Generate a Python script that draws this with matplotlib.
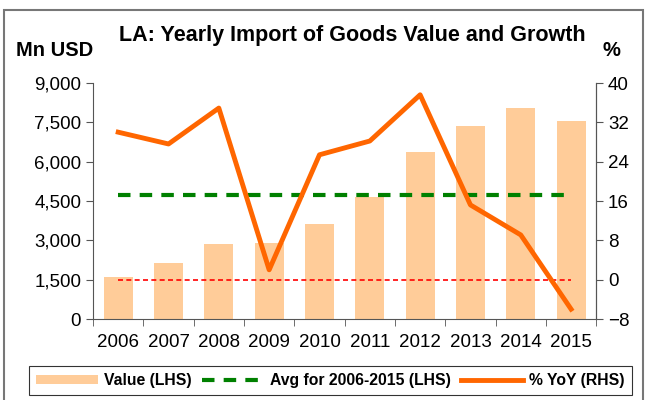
import matplotlib.pyplot as plt
from matplotlib.patches import Rectangle

plt.rcParams['font.family'] = ['Liberation Sans', 'DejaVu Sans']

# data
years = ['2006', '2007', '2008', '2009', '2010', '2011', '2012', '2013', '2014', '2015']
value = [1600, 2140, 2860, 2900, 3620, 4650, 6370, 7360, 8050, 7550]
yoy = [30.0, 27.6, 34.9, 2.0, 25.4, 28.2, 37.6, 15.2, 9.1, -6.0]
avg = sum(value) / len(value)

bar_col = '#FFCC99'
green = '#008000'
orange = '#FF6600'

fig = plt.figure(figsize=(6.46, 4.0), dpi=100)
ax = fig.add_axes([0.144, 0.2025, 0.779, 0.59])
x = list(range(len(years)))

bars = ax.bar(x, value, width=0.58, color=bar_col, label='Value (LHS)', zorder=1)
avg_line, = ax.plot([x[0], x[-1]], [avg, avg], color=green, lw=3, ls=(0, (3, 2.2)),
                    label='Avg for 2006-2015 (LHS)', zorder=3)
ax.set_ylim(0, 9000)
ax.set_yticks(range(0, 9001, 1500))
ax.set_yticklabels([f'{v:,}' for v in range(0, 9001, 1500)])
ax.set_xlim(-0.5, len(years) - 0.5)
ax.set_xticks(x)
ax.set_xticklabels(years)
ax.set_xticks([i - 0.5 for i in range(len(years) + 1)], minor=True)
ax.tick_params(axis='x', which='major', length=0, labelsize=13.5, pad=11)
ax.tick_params(axis='x', which='minor', length=5, color='#555555')
ax.tick_params(axis='y', labelsize=13.5, length=5, color='#555555')
for s in ['left', 'bottom', 'right']:
    ax.spines[s].set_color('#555555')
ax.spines['top'].set_visible(False)

ax2 = ax.twinx()
ax2.plot([x[0], x[-1]], [0, 0], color='red', lw=1.2, ls=(0, (3, 2)), zorder=2)
yoy_line, = ax2.plot(x, yoy, color=orange, lw=3.5, label='% YoY (RHS)', zorder=4)
ax2.set_ylim(-8, 40)
ax2.set_yticks(range(-8, 41, 8))
ax2.tick_params(axis='y', labelsize=13.5, length=5, color='#555555')
ax2.spines['top'].set_visible(False)
ax2.spines['right'].set_color('#555555')
ax2.spines['left'].set_visible(False)
ax2.spines['bottom'].set_visible(False)
ax.set_zorder(ax2.get_zorder() - 1)
ax.patch.set_visible(False)
ax2.patch.set_visible(False)

fig.text(0.545, 0.912, 'LA: Yearly Import of Goods Value and Growth',
         ha='center', va='center', fontsize=15.5, fontweight='bold')
fig.text(0.085, 0.873, 'Mn USD', ha='center', va='center', fontsize=14.5, fontweight='bold')
fig.text(0.947, 0.873, '%', ha='center', va='center', fontsize=14.5, fontweight='bold')

leg = fig.legend([bars, avg_line, yoy_line],
                 ['Value (LHS)', 'Avg for 2006-2015 (LHS)', '% YoY (RHS)'],
                 loc='center', bbox_to_anchor=(0.511, 0.048),
                 ncol=3, frameon=True, fancybox=False, edgecolor='black',
                 prop={'weight': 'bold', 'size': 11.3}, handlelength=3.95,
                 handleheight=0.55, columnspacing=0.64, handletextpad=0.4,
                 borderpad=0.45)
leg.get_frame().set_linewidth(0.8)

fig.patches.append(Rectangle((0.006, -0.01), 0.99, 0.985, transform=fig.transFigure,
                             fill=False, edgecolor='#777777', lw=1.5))

fig.savefig('out.png', dpi=100)
